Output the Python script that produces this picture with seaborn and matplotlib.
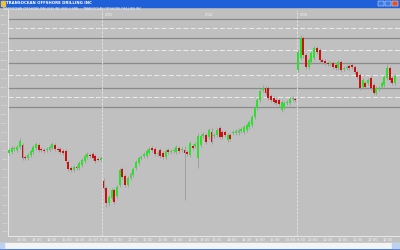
import matplotlib
matplotlib.use("Agg")
import matplotlib.pyplot as plt
import seaborn as sns
import numpy as np
import pandas as pd
from matplotlib.patches import Rectangle

# ---------------- data (5-minute candles, price units) ----------------
opens = [97, 98, 101, 100, 103, 105, 93, 92, 95, 98, 102, 105, 101, 100, 100, 100, 102, 105, 101, 101,
         99, 99, 88, 82, 80, 83, 82, 85, 89, 93, 95, 96, 94, 91, 90,
         69, 62, 47, 52, 60, 54, 65, 81, 74, 65, 72, 75, 82, 87, 92, 94, 94, 97, 102, 101,
         96, 100, 97, 93, 100, 98, 99, 98, 102, 100, 100, 98, 95, 104, 104, 92, 105, 114, 115, 113,
         118, 114, 115, 122, 118, 118, 110, 115, 117, 117, 117, 119, 118, 120, 123, 125, 133, 142, 150, 160,
         162, 162, 154, 152, 150, 150, 140, 142, 147, 147, 151, 151,
         180, 192, 212, 195, 183, 188, 192, 202, 200, 190, 189, 187, 186, 187, 185, 182, 188, 181, 182, 184,
         185, 183, 178, 175, 163, 167, 167, 172, 165, 157, 161, 163, 165, 172, 182, 172, 167]
closes = [100, 102, 102, 103, 109, 92, 92, 95, 99, 103, 106, 100, 100, 99, 101, 103, 106, 101, 100, 98,
          97, 89, 81, 80, 83, 82, 87, 90, 94, 96, 94, 92, 89, 90, 92,
          62, 47, 53, 60, 48, 63, 80, 73, 65, 72, 76, 81, 88, 92, 93, 96, 99, 101, 100, 96,
          97, 94, 93, 99, 98, 99, 100, 103, 99, 101, 97, 96, 107, 102, 106, 114, 114, 116, 108, 120,
          108, 115, 120, 113, 113, 115, 115, 111, 118, 119, 120, 121, 123, 125, 128, 133, 142, 150, 159, 162,
          157, 152, 150, 148, 147, 146, 148, 147, 148, 151, 152, 150,
          198, 212, 195, 183, 190, 197, 202, 198, 190, 188, 187, 186, 187, 183, 182, 188, 180, 182, 183, 182,
          183, 178, 173, 162, 170, 163, 170, 162, 157, 162, 162, 167, 173, 182, 170, 167, 174]
highs = [102, 104, 104, 105, 112, 107, 95, 97, 101, 105, 108, 107, 103, 102, 103, 105, 108, 107, 103, 103,
         101, 101, 90, 84, 85, 85, 89, 92, 96, 98, 97, 98, 96, 93, 94,
         72, 64, 55, 62, 62, 65, 82, 83, 76, 74, 78, 83, 90, 94, 95, 98, 101, 103, 104, 103,
         99, 102, 99, 101, 102, 101, 102, 105, 104, 103, 104, 100, 109, 106, 108, 117, 116, 118, 117, 122,
         122, 117, 122, 124, 120, 120, 117, 117, 120, 121, 122, 123, 125, 127, 130, 135, 144, 152, 161, 165,
         164, 164, 156, 154, 152, 152, 150, 149, 150, 153, 154, 153,
         200, 215, 214, 197, 192, 199, 204, 204, 202, 192, 191, 189, 189, 189, 187, 190, 190, 184, 185, 186,
         187, 185, 180, 177, 172, 169, 172, 174, 167, 164, 164, 169, 175, 186, 184, 174, 176]
lows = [95, 96, 99, 98, 101, 90, 90, 90, 93, 96, 100, 98, 98, 97, 98, 98, 100, 99, 98, 96,
        95, 87, 79, 78, 78, 80, 80, 83, 87, 91, 92, 90, 87, 89, 89,
        60, 43, 44, 50, 46, 52, 63, 71, 63, 63, 70, 73, 80, 85, 90, 92, 92, 95, 98, 94,
        94, 92, 91, 91, 96, 96, 97, 96, 97, 98, 50, 94, 93, 100, 102, 82, 103, 112, 106, 111,
        106, 112, 113, 111, 111, 113, 108, 109, 115, 115, 115, 117, 116, 118, 121, 123, 131, 140, 148, 158,
        155, 150, 148, 146, 145, 144, 138, 140, 145, 145, 149, 148,
        178, 190, 192, 181, 181, 186, 190, 196, 188, 186, 185, 184, 184, 181, 180, 180, 178, 179, 180, 180,
        181, 176, 171, 160, 161, 161, 165, 160, 155, 155, 159, 161, 163, 170, 168, 165, 165]

solid_levels = [231, 212, 187, 162, 143]
dashed_levels = [222, 200, 175, 153]
day_breaks = [34.5, 106.5]
date_labels = ["2/01", "2/04", "2/05"]
date_label_pos = [35.5, 72.5, 107.5]

y_ticks = list(range(18, 240, 9))
x_tick_pos = [4.8, 10.4, 15.9, 21.5, 26.3, 33.0,
              40.4, 45.9, 51.5, 57.0, 62.6, 68.1, 72.6, 77.0, 82.6, 88.1, 93.0, 98.5, 105.9,
              112.6, 118.1, 123.7, 129.3, 134.8, 140.4]
x_tick_labels = ["13:30", "14:00", "14:30", "15:00", "15:30", "15:55 9:30",
                 "10:00", "10:30", "11:00", "11:30", "12:00", "12:30", "13:00", "13:30", "14:00",
                 "14:30", "15:00", "15:30", "15:55 9:30",
                 "10:00", "10:30", "11:00", "11:30", "12:00", "12:30"]

df = pd.DataFrame({"open": opens, "close": closes, "high": highs, "low": lows})
df["bar"] = np.arange(len(df))
df["up"] = df["close"] >= df["open"]

# ---------------- styling ----------------
BG = "#c0c0c0"
sns.set_theme(style="dark", rc={"axes.facecolor": BG, "figure.facecolor": BG})
plt.rcParams["font.family"] = ["DejaVu Sans"]

W, H = 400, 250
fig = plt.figure(figsize=(4, 2.5), dpi=100)
fig.patch.set_facecolor(BG)
ax = fig.add_axes([8 / W, 14 / H, 392 / W, 226 / H])
ax.set_facecolor(BG)

# level lines
for lv in solid_levels:
    ax.axhline(lv, color="#8a8a8a", lw=0.9, zorder=1)
for lv in dashed_levels:
    ax.axhline(lv, color="#ececec", lw=0.7, dashes=(5, 2.5), zorder=1)
for b in day_breaks:
    ax.axvline(b, color="#e6e6e6", lw=0.6, dashes=(3, 1.5), zorder=1)

# wicks
ax.vlines(df["bar"], df["low"], df["high"], color="#9a9a9a", lw=0.6, zorder=2)
# bodies
colors = np.where(df["up"], "#2ee02e", "#cc1010")
body = (df["close"] - df["open"]).replace(0, 0.6)
ax.bar(df["bar"], body, bottom=df["open"], width=0.72, color=colors, linewidth=0, zorder=3)

ax.set_xlim(-0.37, 144.8)
ax.set_ylim(14, 240)

ax.set_yticks(y_ticks)
ax.set_yticklabels([f"{v:.1f}" for v in y_ticks])
ax.set_xticks(x_tick_pos)
ax.set_xticklabels(x_tick_labels)
ax.tick_params(axis="y", colors="#f4f4f4", labelsize=1.75, length=0, pad=0.2)
ax.tick_params(axis="x", colors="#f4f4f4", labelsize=2.6, length=1.5, width=0.4, pad=1.2, direction="in")
for lab in ax.get_yticklabels():
    lab.set_horizontalalignment("right")
ax.grid(False)
for s in ["top", "right"]:
    ax.spines[s].set_visible(False)
ax.spines["left"].set_color("#eeeeee")
ax.spines["left"].set_linewidth(0.6)
ax.spines["bottom"].set_color("#eeeeee")
ax.spines["bottom"].set_linewidth(0.6)

for t, p in zip(date_labels, date_label_pos):
    ax.text(p, 237, t, color="#f4f4f4", fontsize=2.6, va="top", ha="left")

# window chrome
fig.patches.append(Rectangle((0, 1 - 6.5 / H), 1, 6.5 / H, transform=fig.transFigure,
                             color="#1f5fd8", zorder=0))
fig.patches.append(Rectangle((0, 0), 1, 2.5 / H, transform=fig.transFigure, color="#1f5fd8", zorder=0))
fig.patches.append(Rectangle((0, 2.5 / H), 1, 4.5 / H, transform=fig.transFigure, color="#f4f4f4", zorder=0))
fig.patches.append(Rectangle((0, 2.5 / H), 4 / W, 4.5 / H, transform=fig.transFigure, color="#bcd0f0", zorder=1))
fig.patches.append(Rectangle((392 / W, 2.5 / H), 8 / W, 4.5 / H, transform=fig.transFigure, color="#bcd0f0", zorder=1))
fig.patches.append(Rectangle((1 / W, 1 - 5.5 / H), 4 / W, 4 / H, transform=fig.transFigure, color="#f0c040", zorder=1))
for i, c in enumerate(["#3b78e0", "#3b78e0", "#e0502a"]):
    fig.patches.append(Rectangle(((378 + i * 7.2) / W, 1 - 6 / H), 6 / W, 5 / H,
                                 transform=fig.transFigure, color=c, ec="white", lw=0.3, zorder=1))
fig.text(6 / W, 1 - 3.2 / H, "TRANSOCEAN OFFSHORE DRILLING INC", color="white", fontsize=2.8,
         fontweight="bold", va="center", ha="left")
fig.text(2 / W, 1 - 8.8 / H,
         "TRANSOCEAN OFFSHORE DRILLING INC (RIG) 5 MIN. -- TRANSOCEAN OFFSHORE DRILLING INC",
         color="#f2f2f2", fontsize=2.2, va="center", ha="left")

fig.savefig("out.png", dpi=100, facecolor=BG)
